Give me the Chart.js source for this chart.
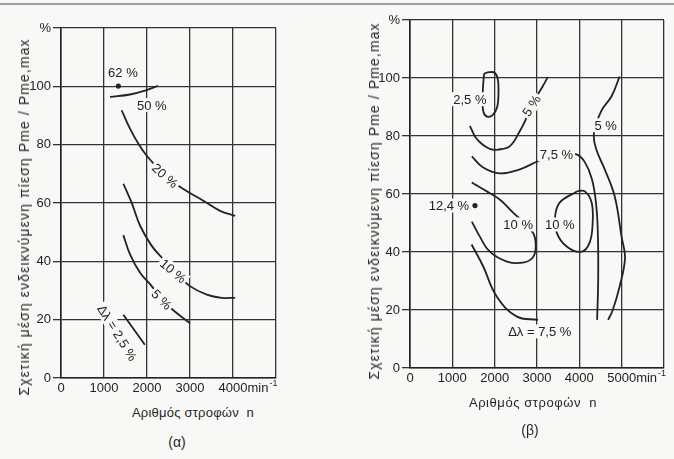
<!DOCTYPE html>
<html>
<head>
<meta charset="utf-8">
<script src="https://cdn.jsdelivr.net/npm/chart.js@4"></script>
<style>
  html, body { margin: 0; padding: 0; }
  body { width: 674px; height: 459px; position: relative; overflow: hidden; background: #f8f8f6; font-family: 'Liberation Sans', Arial, sans-serif; color: #262626; }
  .box { position: absolute; }
  .txt { position: absolute; white-space: nowrap; transform: translate(-50%, -50%); font-size: 13px; line-height: 1; }
  .vtxt { font-size: 14px; transform: translate(-50%, -50%) rotate(-90deg); }
  .scan-edge { position: absolute; left: 0; top: 3px; width: 674px; height: 2px; background: #a0a0a0; }
</style>
</head>
<body>
<div class="scan-edge"></div>
<div class="box" style="left:0;top:0;width:300px;height:400px"><canvas id="chart-a"></canvas></div>
<div class="box" style="left:340px;top:0;width:334px;height:400px"><canvas id="chart-b"></canvas></div>

<div class="txt vtxt" data-fit="357" style="left:24px;top:217px">Σχετική μέση ενδεικνύμενη πίεση Pme / Pme,max</div>
<div class="txt vtxt" data-fit="357" style="left:374px;top:201px">Σχετική μέση ενδεικνύμενη πίεση Pme / Pme,max</div>
<div class="txt" data-fit="122" style="left:193px;top:412px">Αριθμός στροφών&nbsp;&nbsp;n</div>
<div class="txt" data-fit="128" style="left:533px;top:402px">Αριθμός στροφών&nbsp;&nbsp;n</div>
<div class="txt" style="left:177px;top:442px;font-size:14px">(α)</div>
<div class="txt" style="left:530px;top:430px;font-size:14px">(β)</div>

<script>
// shared axes
const pmeTicks = [0, 20, 40, 60, 80, 100];
const rpmTicksA = [0, 1000, 2000, 3000, 4000];
const rpmTicksB = [0, 1000, 2000, 3000, 4000, 5000];

// (α) iso-lines of Δλ, pairs of [rpm, pme %]
const peakA = [[1333, 100.1]];
const curveA50 = [[1140, 96.4], [1605, 97.2], [1990, 98.7], [2260, 100.2]];
const curveA20 = [[1410, 91.8], [1605, 85.5], [1800, 80.3], [1990, 76.3], [2420, 69.4], [2845, 64.8], [3310, 60.8], [3700, 57.3], [4050, 55.6]];
const curveA10 = [[1450, 66.6], [1640, 60.2], [1840, 52.2], [2110, 45.3], [2380, 40.7], [2610, 36.7], [3000, 31.5], [3390, 28.6], [3740, 27.5], [4050, 27.5]];
const curveA5 = [[1450, 49], [1605, 42.4], [1840, 36.1], [2110, 31.5], [2340, 26.9], [2690, 22.3], [3000, 18.8]];
const curveA25 = [[1450, 21.7], [1950, 11.4]];
const labelsA = [
  { text: '62 %', x: 1440, y: 104.8 },
  { text: '50 %', x: 2110, y: 93.6 },
  { text: '20 %', x: 2420, y: 69.4 },
  { text: '10 %', x: 2610, y: 36.7 },
  { text: '5 %', x: 2340, y: 26.9 },
  { text: 'Δλ = 2,5 %', x: 1310, y: 15.5 },
];

// (β)
const peakB = [[1535, 56]];
const curveB25 = [[1750, 101.5], [1725, 97], [1715, 92], [1735, 88.3], [1820, 86.7], [1950, 87.2], [2060, 90], [2090, 95], [2075, 99.5], [2000, 101.8], [1870, 102], [1750, 101.5]];
const curveB5a = [[1415, 83.5], [1550, 79.5], [1720, 77], [1900, 75.5], [2075, 75.3], [2360, 76.5], [2595, 81.7], [2760, 86.5], [2880, 90.3], [3000, 93.8], [3130, 97], [3255, 100.3]];
const curveB75 = [[1460, 73], [1720, 69.2], [2120, 67.1], [2595, 68.5], [3020, 71.3], [3465, 73.7], [3930, 73.7], [4130, 71], [4300, 65], [4400, 56], [4440, 45], [4445, 30], [4420, 16.6]];
const curveB5b = [[4950, 100.5], [4765, 93.8], [4520, 88.7], [4345, 81], [4400, 75.4], [4600, 68.5], [4835, 59.2], [5000, 45], [5080, 38], [4950, 28], [4790, 20], [4680, 16.6]];
const curveB10a = [[1460, 64], [1815, 60.9], [2120, 58.1], [2405, 54], [2900, 46.7], [2970, 41.9], [2900, 38.1], [2665, 36.3], [2290, 36.7], [1885, 40.1], [1650, 45.3], [1460, 50.5]];
const curveB10b = [[3940, 60.9], [3540, 57.1], [3430, 52.5], [3465, 46.7], [3700, 41.9], [4055, 40.1], [4245, 43.3], [4315, 50.2], [4290, 57.1], [4130, 60.9], [3940, 60.9]];
const curveB75low = [[1455, 42.6], [1730, 35], [2045, 24.7], [2515, 17.8], [3025, 16.6]];
const labelsB = [
  { text: '2,5 %', x: 1415, y: 92.7 },
  { text: '5 %', x: 2870, y: 90.5 },
  { text: '5 %', x: 4620, y: 83.7 },
  { text: '7,5 %', x: 3460, y: 73.7 },
  { text: '12,4 %', x: 920, y: 56 },
  { text: '10 %', x: 2555, y: 49.5 },
  { text: '10 %', x: 3540, y: 49.5 },
  { text: 'Δλ = 7,5 %', x: 3065, y: 12.6 },
];

const INK = '#222';
const PAPER = '#f8f8f6';
const FONT = '"Liberation Sans", Arial, sans-serif';
const TICK_SIZE = 13;
const anglesA = [0, 0, 42, 40, 45, 58];
const anglesB = [0, -56, 0, 0, 0, 0, 0, 0];

function toPoints(pairs) {
  return pairs.map(([x, y]) => ({ x, y }));
}

function lineSet(pairs) {
  return { data: toPoints(pairs), showLine: true, borderColor: INK, borderWidth: 1.8, tension: 0.4, pointRadius: 0 };
}

function dotSet(pairs) {
  return { data: toPoints(pairs), showLine: false, pointRadius: 2.6, pointBackgroundColor: INK, pointBorderWidth: 0 };
}

// curve labels sit on a paper-coloured patch, cutting the lines like the print does
function labelPlugin(items, angles, lastTick) {
  return {
    id: 'curveLabels',
    afterDatasetsDraw(chart) {
      const { ctx, scales: { x, y } } = chart;
      ctx.save();
      ctx.font = '13px ' + FONT;
      ctx.textAlign = 'center';
      ctx.textBaseline = 'middle';
      items.forEach((item, i) => {
        const w = ctx.measureText(item.text).width;
        ctx.save();
        ctx.translate(x.getPixelForValue(item.x), y.getPixelForValue(item.y));
        ctx.rotate((angles[i] || 0) * Math.PI / 180);
        ctx.fillStyle = PAPER;
        ctx.fillRect(-w / 2 - 2, -7, w + 4, 14);
        ctx.fillStyle = INK;
        ctx.fillText(item.text, 0, 1);
        ctx.restore();
      });
      ctx.restore();
    },
    afterDraw(chart) {
      // unit after the last rpm label: min^-1
      const { ctx, scales: { x } } = chart;
      ctx.save();
      ctx.font = TICK_SIZE + 'px ' + FONT;
      ctx.fillStyle = INK;
      ctx.textBaseline = 'middle';
      const start = x.getPixelForValue(lastTick) + ctx.measureText(String(lastTick)).width / 2;
      const mid = x.top + 3 + TICK_SIZE * 1.2 / 2;
      ctx.fillText('min', start, mid);
      const w = ctx.measureText('min').width;
      ctx.font = '9px ' + FONT;
      ctx.fillText('-1', start + w + 1, mid - 5);
      ctx.restore();
    },
  };
}

function makeChart(id, datasets, labels, angles, xMax, xTicks, box) {
  const lastTick = xTicks[xTicks.length - 1];
  return new Chart(document.getElementById(id), {
    type: 'scatter',
    data: { datasets },
    plugins: [labelPlugin(labels, angles, lastTick)],
    options: {
      responsive: true,
      maintainAspectRatio: false,
      animation: false,
      layout: { padding: { top: box.top, right: box.right, bottom: 0, left: 0 } },
      plugins: { legend: { display: false }, tooltip: { enabled: false } },
      scales: {
        x: {
          type: 'linear', min: 0, max: xMax,
          afterFit: (s) => { s.height = box.xh; },
          border: { color: INK, width: 1.6 },
          grid: { color: '#333', lineWidth: 1.3, drawTicks: false },
          ticks: {
            stepSize: 1000, autoSkip: false, maxRotation: 0, padding: 3, color: INK, font: { size: TICK_SIZE, family: FONT },
            callback: (v) => (xTicks.includes(v) ? String(v) : ''),
          },
        },
        y: {
          type: 'linear', min: 0, max: 120,
          afterFit: (s) => { s.width = box.yw; },
          border: { color: INK, width: 1.6 },
          grid: { color: '#333', lineWidth: 1.3, tickLength: 8 },
          ticks: {
            stepSize: 20, autoSkip: false, padding: 2, color: INK, font: { size: TICK_SIZE, family: FONT },
            callback: (v) => (v === 120 ? '%' : (pmeTicks.includes(v) ? String(v) : '')),
          },
        },
      },
    },
  });
}

function fitTexts() {
  document.querySelectorAll('[data-fit]').forEach((el) => {
    const target = Number(el.dataset.fit);
    const n = el.textContent.length;
    const extra = (target - el.offsetWidth) / n;
    el.style.letterSpacing = extra.toFixed(2) + 'px';
  });
}

document.addEventListener('DOMContentLoaded', () => {
  fitTexts();
  makeChart('chart-a',
    [dotSet(peakA), lineSet(curveA50), lineSet(curveA20), lineSet(curveA10), lineSet(curveA5), lineSet(curveA25)],
    labelsA, anglesA, 5000, rpmTicksA, { top: 28, right: 24, xh: 22, yw: 61 });
  makeChart('chart-b',
    [dotSet(peakB), lineSet(curveB25), lineSet(curveB5a), lineSet(curveB75), lineSet(curveB5b), lineSet(curveB10a), lineSet(curveB10b), lineSet(curveB75low)],
    labelsB, anglesB, 6000, rpmTicksB, { top: 20, right: 10, xh: 32, yw: 70 });
});
</script>
</body>
</html>
